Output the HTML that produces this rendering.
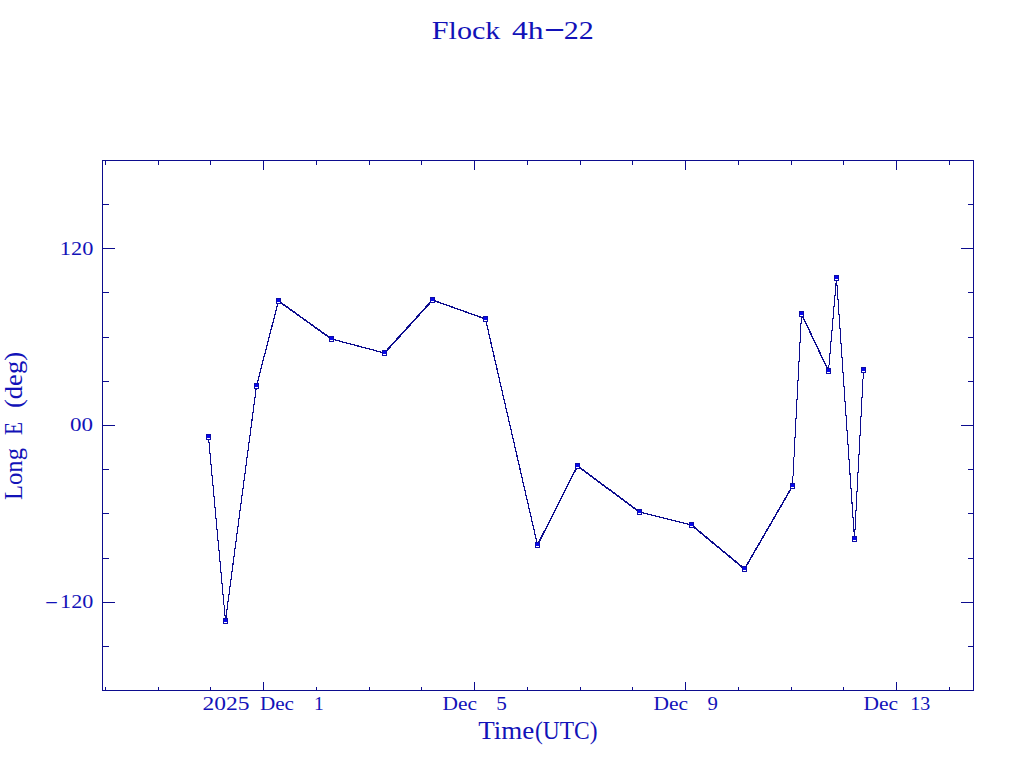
<!DOCTYPE html>
<html lang="en"><head><meta charset="utf-8"><title>Flock 4h-22</title>
<style>
html,body{margin:0;padding:0;background:#fff;overflow:hidden}
svg{display:block}
text{font-family:"Liberation Serif",serif;fill:#1212b8;white-space:pre}
</style></head>
<body>
<svg width="1024" height="768" viewBox="0 0 1024 768">
<rect x="0" y="0" width="1024" height="768" fill="#ffffff"/>
<g shape-rendering="crispEdges">
<rect x="102" y="160" width="872" height="1" fill="#0c0c8e"/>
<rect x="102" y="690" width="872" height="1" fill="#0c0c8e"/>
<rect x="102" y="160" width="1" height="531" fill="#0c0c8e"/>
<rect x="973" y="160" width="1" height="531" fill="#0c0c8e"/>
<rect x="105" y="160" width="1" height="5" fill="#0c0c8e"/>
<rect x="105" y="687" width="1" height="4" fill="#0c0c8e"/>
<rect x="158" y="160" width="1" height="5" fill="#0c0c8e"/>
<rect x="158" y="687" width="1" height="4" fill="#0c0c8e"/>
<rect x="210" y="160" width="1" height="5" fill="#0c0c8e"/>
<rect x="210" y="687" width="1" height="4" fill="#0c0c8e"/>
<rect x="263" y="160" width="1" height="10" fill="#0c0c8e"/>
<rect x="263" y="682" width="1" height="9" fill="#0c0c8e"/>
<rect x="316" y="160" width="1" height="5" fill="#0c0c8e"/>
<rect x="316" y="687" width="1" height="4" fill="#0c0c8e"/>
<rect x="369" y="160" width="1" height="5" fill="#0c0c8e"/>
<rect x="369" y="687" width="1" height="4" fill="#0c0c8e"/>
<rect x="421" y="160" width="1" height="5" fill="#0c0c8e"/>
<rect x="421" y="687" width="1" height="4" fill="#0c0c8e"/>
<rect x="474" y="160" width="1" height="10" fill="#0c0c8e"/>
<rect x="474" y="682" width="1" height="9" fill="#0c0c8e"/>
<rect x="527" y="160" width="1" height="5" fill="#0c0c8e"/>
<rect x="527" y="687" width="1" height="4" fill="#0c0c8e"/>
<rect x="580" y="160" width="1" height="5" fill="#0c0c8e"/>
<rect x="580" y="687" width="1" height="4" fill="#0c0c8e"/>
<rect x="632" y="160" width="1" height="5" fill="#0c0c8e"/>
<rect x="632" y="687" width="1" height="4" fill="#0c0c8e"/>
<rect x="685" y="160" width="1" height="10" fill="#0c0c8e"/>
<rect x="685" y="682" width="1" height="9" fill="#0c0c8e"/>
<rect x="738" y="160" width="1" height="5" fill="#0c0c8e"/>
<rect x="738" y="687" width="1" height="4" fill="#0c0c8e"/>
<rect x="791" y="160" width="1" height="5" fill="#0c0c8e"/>
<rect x="791" y="687" width="1" height="4" fill="#0c0c8e"/>
<rect x="843" y="160" width="1" height="5" fill="#0c0c8e"/>
<rect x="843" y="687" width="1" height="4" fill="#0c0c8e"/>
<rect x="896" y="160" width="1" height="10" fill="#0c0c8e"/>
<rect x="896" y="682" width="1" height="9" fill="#0c0c8e"/>
<rect x="949" y="160" width="1" height="5" fill="#0c0c8e"/>
<rect x="949" y="687" width="1" height="4" fill="#0c0c8e"/>
<rect x="102" y="204" width="7" height="1" fill="#0c0c8e"/>
<rect x="968" y="204" width="6" height="1" fill="#0c0c8e"/>
<rect x="102" y="248" width="13" height="1" fill="#0c0c8e"/>
<rect x="961" y="248" width="13" height="1" fill="#0c0c8e"/>
<rect x="102" y="292" width="7" height="1" fill="#0c0c8e"/>
<rect x="968" y="292" width="6" height="1" fill="#0c0c8e"/>
<rect x="102" y="337" width="7" height="1" fill="#0c0c8e"/>
<rect x="968" y="337" width="6" height="1" fill="#0c0c8e"/>
<rect x="102" y="381" width="7" height="1" fill="#0c0c8e"/>
<rect x="968" y="381" width="6" height="1" fill="#0c0c8e"/>
<rect x="102" y="425" width="13" height="1" fill="#0c0c8e"/>
<rect x="961" y="425" width="13" height="1" fill="#0c0c8e"/>
<rect x="102" y="469" width="7" height="1" fill="#0c0c8e"/>
<rect x="968" y="469" width="6" height="1" fill="#0c0c8e"/>
<rect x="102" y="513" width="7" height="1" fill="#0c0c8e"/>
<rect x="968" y="513" width="6" height="1" fill="#0c0c8e"/>
<rect x="102" y="558" width="7" height="1" fill="#0c0c8e"/>
<rect x="968" y="558" width="6" height="1" fill="#0c0c8e"/>
<rect x="102" y="602" width="13" height="1" fill="#0c0c8e"/>
<rect x="961" y="602" width="13" height="1" fill="#0c0c8e"/>
<rect x="102" y="646" width="7" height="1" fill="#0c0c8e"/>
<rect x="968" y="646" width="6" height="1" fill="#0c0c8e"/>
<path d="M208.5 436.5L225.5 620.5M208.5 437.5L225.5 621.5M225.5 620.5L256.5 385.5M225.5 621.5L256.5 386.5M256.5 385.5L278.5 300.5M256.5 386.5L278.5 301.5M278.0 301.0L331.0 339.0M279.0 301.0L332.0 339.0M331.0 339.0L384.0 353.0M332.0 339.0L385.0 353.0M384.5 352.5L432.5 299.5M384.5 353.5L432.5 300.5M432.0 300.0L485.0 319.0M433.0 300.0L486.0 319.0M485.5 318.5L537.5 544.5M485.5 319.5L537.5 545.5M537.5 544.5L577.5 465.5M537.5 545.5L577.5 466.5M577.0 466.0L639.0 512.0M578.0 466.0L640.0 512.0M639.0 512.0L691.0 525.0M640.0 512.0L692.0 525.0M691.0 525.0L744.0 569.0M692.0 525.0L745.0 569.0M744.5 568.5L792.5 485.5M744.5 569.5L792.5 486.5M792.5 485.5L801.5 313.5M792.5 486.5L801.5 314.5M801.5 313.5L828.5 370.5M801.5 314.5L828.5 371.5M828.5 370.5L836.5 277.5M828.5 371.5L836.5 278.5M836.5 277.5L854.5 538.5M836.5 278.5L854.5 539.5M854.5 538.5L863.5 369.5M854.5 539.5L863.5 370.5" fill="none" stroke="#0c0c8e" stroke-width="1" shape-rendering="crispEdges"/>
<rect x="206" y="434" width="5" height="6" fill="#0c0ca8"/>
<rect x="207" y="435" width="3" height="3" fill="#0808f0"/>
<rect x="207" y="438" width="3" height="1" fill="#ffffff"/>
<rect x="223" y="618" width="5" height="6" fill="#0c0ca8"/>
<rect x="224" y="619" width="3" height="3" fill="#0808f0"/>
<rect x="224" y="622" width="3" height="1" fill="#ffffff"/>
<rect x="254" y="383" width="5" height="6" fill="#0c0ca8"/>
<rect x="255" y="384" width="3" height="3" fill="#0808f0"/>
<rect x="255" y="387" width="3" height="1" fill="#ffffff"/>
<rect x="276" y="298" width="5" height="6" fill="#0c0ca8"/>
<rect x="277" y="299" width="3" height="3" fill="#0808f0"/>
<rect x="277" y="302" width="3" height="1" fill="#ffffff"/>
<rect x="329" y="336" width="5" height="6" fill="#0c0ca8"/>
<rect x="330" y="337" width="3" height="3" fill="#0808f0"/>
<rect x="330" y="340" width="3" height="1" fill="#ffffff"/>
<rect x="382" y="350" width="5" height="6" fill="#0c0ca8"/>
<rect x="383" y="351" width="3" height="3" fill="#0808f0"/>
<rect x="383" y="354" width="3" height="1" fill="#ffffff"/>
<rect x="430" y="297" width="5" height="6" fill="#0c0ca8"/>
<rect x="431" y="298" width="3" height="3" fill="#0808f0"/>
<rect x="431" y="301" width="3" height="1" fill="#ffffff"/>
<rect x="483" y="316" width="5" height="6" fill="#0c0ca8"/>
<rect x="484" y="317" width="3" height="3" fill="#0808f0"/>
<rect x="484" y="320" width="3" height="1" fill="#ffffff"/>
<rect x="535" y="542" width="5" height="6" fill="#0c0ca8"/>
<rect x="536" y="543" width="3" height="3" fill="#0808f0"/>
<rect x="536" y="546" width="3" height="1" fill="#ffffff"/>
<rect x="575" y="463" width="5" height="6" fill="#0c0ca8"/>
<rect x="576" y="464" width="3" height="3" fill="#0808f0"/>
<rect x="576" y="467" width="3" height="1" fill="#ffffff"/>
<rect x="637" y="509" width="5" height="6" fill="#0c0ca8"/>
<rect x="638" y="510" width="3" height="3" fill="#0808f0"/>
<rect x="638" y="513" width="3" height="1" fill="#ffffff"/>
<rect x="689" y="522" width="5" height="6" fill="#0c0ca8"/>
<rect x="690" y="523" width="3" height="3" fill="#0808f0"/>
<rect x="690" y="526" width="3" height="1" fill="#ffffff"/>
<rect x="742" y="566" width="5" height="6" fill="#0c0ca8"/>
<rect x="743" y="567" width="3" height="3" fill="#0808f0"/>
<rect x="743" y="570" width="3" height="1" fill="#ffffff"/>
<rect x="790" y="483" width="5" height="6" fill="#0c0ca8"/>
<rect x="791" y="484" width="3" height="3" fill="#0808f0"/>
<rect x="791" y="487" width="3" height="1" fill="#ffffff"/>
<rect x="799" y="311" width="5" height="6" fill="#0c0ca8"/>
<rect x="800" y="312" width="3" height="3" fill="#0808f0"/>
<rect x="800" y="315" width="3" height="1" fill="#ffffff"/>
<rect x="826" y="368" width="5" height="6" fill="#0c0ca8"/>
<rect x="827" y="369" width="3" height="3" fill="#0808f0"/>
<rect x="827" y="372" width="3" height="1" fill="#ffffff"/>
<rect x="834" y="275" width="5" height="6" fill="#0c0ca8"/>
<rect x="835" y="276" width="3" height="3" fill="#0808f0"/>
<rect x="835" y="279" width="3" height="1" fill="#ffffff"/>
<rect x="852" y="536" width="5" height="6" fill="#0c0ca8"/>
<rect x="853" y="537" width="3" height="3" fill="#0808f0"/>
<rect x="853" y="540" width="3" height="1" fill="#ffffff"/>
<rect x="861" y="367" width="5" height="6" fill="#0c0ca8"/>
<rect x="862" y="368" width="3" height="3" fill="#0808f0"/>
<rect x="862" y="371" width="3" height="1" fill="#ffffff"/>
<text x="431.8" y="39" font-size="25.8" textLength="68.6" lengthAdjust="spacingAndGlyphs" text-anchor="start">Flock</text>
<text x="512" y="39" font-size="25.8" textLength="31.6" lengthAdjust="spacingAndGlyphs" text-anchor="start">4h</text>
<text x="543.5" y="36.4" font-size="25.8" textLength="22" lengthAdjust="spacingAndGlyphs" text-anchor="start">-</text>
<text x="563.8" y="39" font-size="25.8" textLength="30" lengthAdjust="spacingAndGlyphs" text-anchor="start">22</text>
<text x="478.3" y="739" font-size="25" textLength="56" lengthAdjust="spacingAndGlyphs" text-anchor="start">Time</text>
<text x="535" y="739" font-size="25" textLength="62.5" lengthAdjust="spacingAndGlyphs" text-anchor="start">(UTC)</text>
<text transform="translate(21.8,500) rotate(-90)" font-size="25" textLength="52" lengthAdjust="spacingAndGlyphs">Long</text>
<text transform="translate(21.8,435) rotate(-90)" font-size="25" textLength="13" lengthAdjust="spacingAndGlyphs">E</text>
<text transform="translate(21.8,408) rotate(-90)" font-size="25" textLength="56" lengthAdjust="spacingAndGlyphs">(deg)</text>
<text x="59.8" y="255.3" font-size="19.5" textLength="33.5" lengthAdjust="spacingAndGlyphs" text-anchor="start">120</text>
<text x="69.9" y="431.3" font-size="19.5" textLength="23" lengthAdjust="spacingAndGlyphs" text-anchor="start">00</text>
<text x="44.8" y="607.4" font-size="19.5" textLength="13.5" lengthAdjust="spacingAndGlyphs" text-anchor="start">-</text>
<text x="60.1" y="608.3" font-size="19.5" textLength="33.2" lengthAdjust="spacingAndGlyphs" text-anchor="start">120</text>
<text x="202.6" y="710.3" font-size="19.5" textLength="47" lengthAdjust="spacingAndGlyphs" text-anchor="start">2025</text>
<text x="259.9" y="710.3" font-size="19.5" textLength="34" lengthAdjust="spacingAndGlyphs" text-anchor="start">Dec</text>
<text x="313.9" y="710.3" font-size="19.5" text-anchor="start">1</text>
<text x="442.6" y="710.3" font-size="19.5" textLength="34.5" lengthAdjust="spacingAndGlyphs" text-anchor="start">Dec</text>
<text x="496.2" y="710.3" font-size="19.5" textLength="10.6" lengthAdjust="spacingAndGlyphs" text-anchor="start">5</text>
<text x="653.5" y="710.3" font-size="19.5" textLength="34.6" lengthAdjust="spacingAndGlyphs" text-anchor="start">Dec</text>
<text x="707.4" y="710.3" font-size="19.5" textLength="10.4" lengthAdjust="spacingAndGlyphs" text-anchor="start">9</text>
<text x="863.5" y="710.3" font-size="19.5" textLength="34.6" lengthAdjust="spacingAndGlyphs" text-anchor="start">Dec</text>
<text x="910.2" y="710.3" font-size="19.5" textLength="20" lengthAdjust="spacingAndGlyphs" text-anchor="start">13</text>
</g>
</svg>
</body></html>
